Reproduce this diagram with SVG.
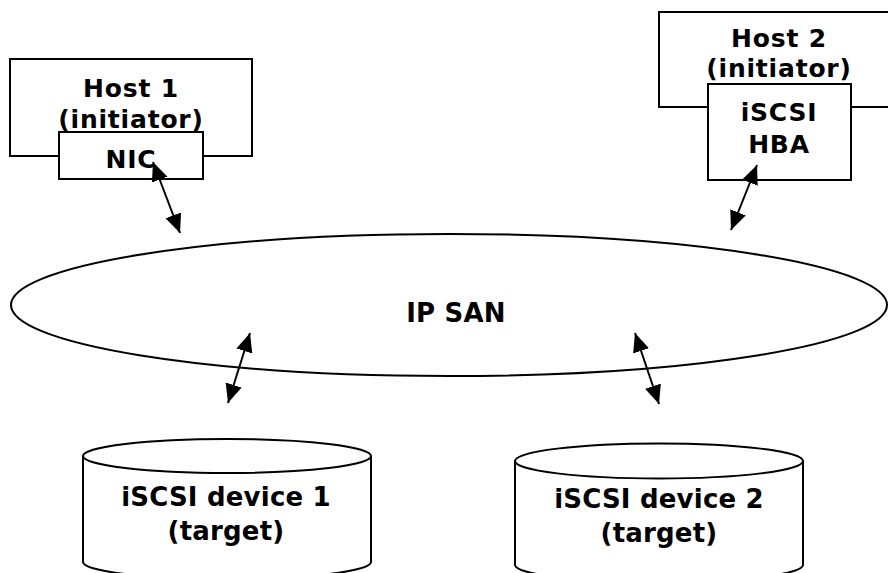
<svg xmlns="http://www.w3.org/2000/svg" width="888" height="573" viewBox="0 0 888 573">
<style>
.s{fill:#fff;stroke:#000;stroke-width:2}
.t{font-family:"DejaVu Sans","Verdana",sans-serif;font-weight:bold;font-size:25px;letter-spacing:0.8px;text-anchor:middle;fill:#000}
.d{font-size:26px;letter-spacing:0.2px}
.c{stroke:#000;stroke-width:2;fill:none;marker-start:url(#ah);marker-end:url(#ah)}
</style>
<defs>
<marker id="ah" markerUnits="userSpaceOnUse" markerWidth="20" markerHeight="18" refX="17" refY="7.5" orient="auto-start-reverse" viewBox="0 0 18 15">
<path d="M0,0 L17,7.5 L0,15 z" fill="#000"/>
</marker>
</defs>
<rect width="888" height="573" fill="#fff"/>
<g id="ipsan">
<ellipse class="s" cx="449" cy="305" rx="438" ry="71"/>
<text class="t d" x="456" y="322">IP SAN</text>
</g>
<g id="host1">
<rect class="s" x="10" y="59" width="242" height="97"/>
<text class="t" x="131" y="97">Host 1</text>
<text class="t" x="131" y="128">(initiator)</text>
<rect class="s" x="59" y="132" width="144" height="47"/>
<text class="t" x="131" y="168">NIC</text>
</g>
<g id="host2">
<rect class="s" x="659" y="12" width="240" height="95"/>
<text class="t" x="779" y="47">Host 2</text>
<text class="t" x="779" y="77">(initiator)</text>
<rect class="s" x="708" y="84" width="143" height="96"/>
<text class="t" x="779" y="121">iSCSI</text>
<text class="t" x="779" y="153">HBA</text>
</g>
<g id="dev1">
<path class="s" d="M83,456 L83,562 A144,17 0 0 0 371,562 L371,456"/>
<ellipse class="s" cx="227" cy="456" rx="144" ry="17"/>
<text class="t d" x="226" y="506">iSCSI device 1</text>
<text class="t d" x="226" y="540">(target)</text>
</g>
<g id="dev2">
<path class="s" d="M515,461 L515,565 A144,17 0 0 0 803,565 L803,461"/>
<ellipse class="s" cx="659" cy="461" rx="144" ry="17.5"/>
<text class="t d" x="659" y="508">iSCSI device 2</text>
<text class="t d" x="659" y="542">(target)</text>
</g>
<g id="connectors">
<line class="c" x1="153" y1="162" x2="180" y2="233"/>
<line class="c" x1="757" y1="165" x2="731" y2="230"/>
<line class="c" x1="250" y1="333" x2="228" y2="403"/>
<line class="c" x1="635" y1="333" x2="659" y2="404"/>
</g>
</svg>
